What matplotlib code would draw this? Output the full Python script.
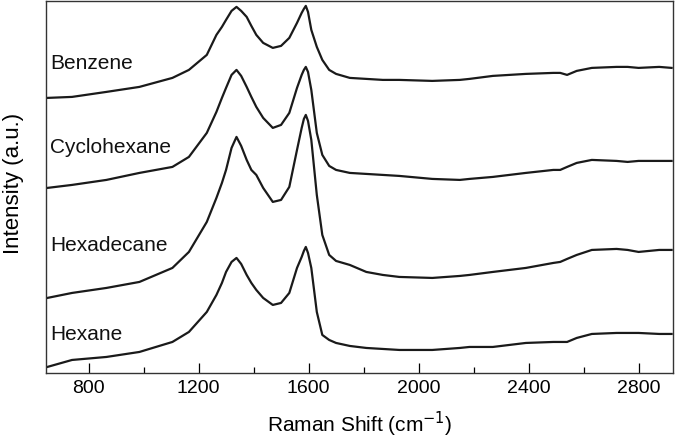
import matplotlib
matplotlib.use("Agg")
import matplotlib.pyplot as plt
from matplotlib.ticker import MultipleLocator

plt.rcParams['font.family'] = ['Liberation Sans', 'DejaVu Sans']

# Raman shift (cm^-1) sample positions
shift = [650, 740, 865, 985, 1105, 1165, 1230, 1265, 1285, 1300, 1320, 1338,
         1355, 1375, 1392, 1410, 1435, 1470, 1500, 1530, 1558, 1575, 1583,
         1590, 1598, 1610, 1630, 1650, 1675, 1700, 1750, 1810, 1870, 1930,
         2050, 2150, 2185, 2270, 2390, 2490, 2515, 2540, 2575, 2630, 2720,
         2760, 2800, 2875, 2920]

# intensities (arbitrary units, stacked offsets included)
benzene = [275, 276, 281, 286, 295, 303, 318, 338, 346, 353, 362, 366,
           362, 356, 347, 338, 330, 325, 327, 335, 350, 360, 364,
           367, 361, 343, 326, 313, 303, 299, 295, 294, 293, 293,
           292, 293, 294, 297, 299, 300, 300, 298, 302, 305, 306,
           306, 305, 306, 305]
cyclohexane = [185, 188, 193, 200, 206, 216, 240, 261, 275, 285, 298, 303,
               297, 286, 276, 266, 255, 245, 248, 260, 285, 298, 303,
               306, 301, 283, 240, 218, 207, 203, 200, 199, 198, 197,
               194, 193, 194, 196, 200, 203, 203, 206, 210, 213, 212,
               211, 212, 212, 212]
hexadecane = [75, 80, 85, 91, 105, 121, 151, 175, 190, 203, 225, 236,
              227, 213, 203, 198, 185, 171, 173, 186, 223, 245, 254,
              258, 252, 233, 178, 138, 118, 112, 108, 101, 98, 96,
              95, 97, 98, 101, 105, 110, 111, 114, 118, 123, 124,
              123, 121, 123, 123]
hexane = [6, 13, 16, 21, 31, 41, 61, 78, 90, 101, 111, 115,
          109, 98, 90, 83, 75, 68, 70, 80, 105, 116, 122,
          126, 120, 105, 61, 38, 33, 30, 27, 25, 24, 23,
          23, 25, 26, 26, 30, 31, 31, 31, 35, 39, 40,
          40, 40, 39, 39]

series = [benzene, cyclohexane, hexadecane, hexane]
names = ['Benzene', 'Cyclohexane', 'Hexadecane', 'Hexane']
label_y = [309, 225, 127, 38]

fig = plt.figure(figsize=(6.75, 4.44), dpi=100)
ax = fig.add_axes([0.068, 0.16, 0.929, 0.838])

for s in series:
    ax.plot(shift, s, color='#1a1a1a', lw=1.6)

for name, y in zip(names, label_y):
    ax.text(660, y, name, fontsize=15, va='center', ha='left', color='#111111')

ax.set_xlim(645, 2925)
ax.set_ylim(0, 372)
ax.xaxis.set_major_locator(MultipleLocator(400))
ax.xaxis.set_minor_locator(MultipleLocator(200))
ax.tick_params(axis='x', which='major', direction='in', length=7, width=0.9, labelsize=14, pad=5)
ax.tick_params(axis='x', which='minor', direction='in', length=4, width=0.9)
ax.set_yticks([])
for sp in ax.spines.values():
    sp.set_linewidth(1.0)
    sp.set_color('#333333')

ax.set_xlabel('Raman Shift (cm$^{-1}$)', fontsize=15, labelpad=9)
ax.set_ylabel('Intensity (a.u.)', fontsize=16)
ax.yaxis.set_label_coords(-0.035, 0.51)

fig.savefig('out.png', dpi=100)
